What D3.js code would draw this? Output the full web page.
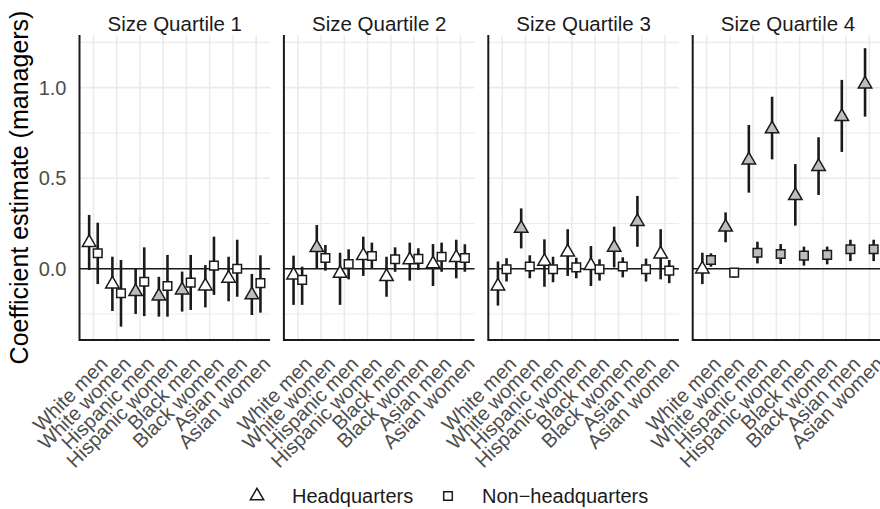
<!DOCTYPE html>
<html>
<head>
<meta charset="utf-8">
<script src="https://cdn.jsdelivr.net/npm/d3@7"></script>
<style>
  body { margin: 0; background: #fff; }
  svg { display: block; font-family: "Liberation Sans", Arial, Helvetica, sans-serif; }
</style>
</head>
<body>
<svg id="chart" width="880" height="509"></svg>
<script>
const panels = ['Size Quartile 1', 'Size Quartile 2', 'Size Quartile 3', 'Size Quartile 4'];
const categories = ['White men', 'White women', 'Hispanic men', 'Hispanic women',
                    'Black men', 'Black women', 'Asian men', 'Asian women'];
const yTicks = [0, 0.5, 1.0];
const yMinor = [-0.25, 0.25, 0.75, 1.25];
const legendLabels = ['Headquarters', 'Non\u2212headquarters'];

// headquarters estimates and 95% intervals, one row per size quartile
const hqEst = [
  [0.144, -0.085, -0.127, -0.151, -0.118, -0.096, -0.053, -0.145],
  [-0.035, 0.116, -0.026, 0.072, -0.044, 0.048, 0.026, 0.061],
  [-0.096, 0.223, 0.040, 0.092, 0.017, 0.118, 0.260, 0.081],
  [-0.002, 0.229, 0.600, 0.772, 0.403, 0.564, 0.840, 1.020]
];
const hqLo = [
  [-0.007, -0.234, -0.250, -0.265, -0.237, -0.214, -0.180, -0.256],
  [-0.200, 0.002, -0.200, -0.040, -0.155, -0.066, -0.096, -0.053],
  [-0.204, 0.112, -0.100, -0.040, -0.096, 0.007, 0.121, -0.059],
  [-0.085, 0.146, 0.420, 0.604, 0.238, 0.407, 0.645, 0.840]
];
const hqHi = [
  [0.297, 0.066, -0.001, -0.045, -0.016, 0.020, 0.066, -0.029],
  [0.072, 0.241, 0.088, 0.177, 0.066, 0.144, 0.136, 0.160],
  [0.040, 0.333, 0.162, 0.218, 0.125, 0.232, 0.402, 0.218],
  [0.088, 0.311, 0.794, 0.950, 0.578, 0.726, 1.043, 1.218]
];
const hqFilled = [
  [0, 0, 1, 1, 1, 0, 0, 1],
  [0, 1, 0, 0, 0, 0, 0, 0],
  [0, 1, 0, 0, 0, 1, 1, 0],
  [0, 1, 1, 1, 1, 1, 1, 1]
];

// non-headquarters estimates and intervals
const nhqEst = [
  [0.085, -0.136, -0.072, -0.096, -0.077, 0.017, 0.000, -0.080],
  [-0.062, 0.059, 0.026, 0.070, 0.052, 0.054, 0.066, 0.059],
  [-0.003, 0.012, -0.003, 0.007, -0.003, 0.012, -0.003, -0.011],
  [0.048, -0.022, 0.088, 0.081, 0.072, 0.076, 0.107, 0.107]
];
const nhqLo = [
  [-0.085, -0.320, -0.262, -0.265, -0.228, -0.145, -0.155, -0.243],
  [-0.200, -0.011, -0.059, 0.002, -0.017, -0.007, -0.017, -0.017],
  [-0.071, -0.053, -0.075, -0.053, -0.066, -0.048, -0.071, -0.080],
  [0.011, -0.050, 0.029, 0.026, 0.017, 0.024, 0.042, 0.042]
];
const nhqHi = [
  [0.254, 0.048, 0.118, 0.076, 0.076, 0.177, 0.160, 0.074],
  [0.011, 0.131, 0.107, 0.144, 0.118, 0.113, 0.144, 0.135],
  [0.058, 0.074, 0.066, 0.061, 0.052, 0.063, 0.056, 0.048],
  [0.085, 0.000, 0.149, 0.136, 0.122, 0.122, 0.160, 0.160]
];
const nhqFilled = [
  [0, 0, 0, 0, 0, 0, 0, 0],
  [0, 0, 0, 0, 0, 0, 0, 0],
  [0, 0, 0, 0, 0, 0, 0, 0],
  [1, 0, 1, 1, 1, 1, 1, 1]
];

const svg = d3.select('#chart');
const plotTop = 35, plotBottom = 340, left0 = 79.5, panelW = 190.6, gap = 13.8;
const grid = '#ebebeb', ink = '#1a1a1a', grayFill = '#bdbdbd';

let y = d3.scaleLinear().domain([-0.394, 1.291]).range([plotBottom, plotTop]);

// y axis title
svg.append('text')
  .attr('transform', 'translate(28,' + ((plotTop + plotBottom) / 2) + ') rotate(-90)')
  .attr('text-anchor', 'middle')
  .attr('font-size', 25)
  .attr('fill', '#000')
  .text('Coefficient estimate (managers)');

// y tick labels
svg.selectAll('.ylab')
  .data(yTicks)
  .enter().append('text')
  .attr('class', 'ylab')
  .attr('x', left0 - 13)
  .attr('y', d => y(d))
  .attr('dy', '0.36em')
  .attr('text-anchor', 'end')
  .attr('font-size', 20)
  .attr('fill', '#4d4d4d')
  .text(d => d3.format('.1f')(d));

const triangle = d3.symbol().type(d3.symbolTriangle).size(78);
const square = d3.symbol().type(d3.symbolSquare).size(74);

panels.forEach((title, p) => {
  let x0 = left0 + p * (panelW + gap);
  let x = d3.scalePoint().domain(categories).range([x0, x0 + panelW]).padding(0.6);
  let dodge = x.step() * 0.185;
  let g = svg.append('g');

  // grid
  g.selectAll('.hg')
    .data(yTicks.concat(yMinor))
    .enter().append('line')
    .attr('x1', x0).attr('x2', x0 + panelW)
    .attr('y1', d => y(d)).attr('y2', d => y(d))
    .attr('stroke', grid)
    .attr('stroke-width', d => yTicks.includes(d) ? 1.6 : 1.1);
  g.selectAll('.vg')
    .data(categories)
    .enter().append('line')
    .attr('x1', d => x(d)).attr('x2', d => x(d))
    .attr('y1', plotTop).attr('y2', plotBottom)
    .attr('stroke', grid)
    .attr('stroke-width', 1.6);

  // zero line
  g.append('line')
    .attr('x1', x0).attr('x2', x0 + panelW)
    .attr('y1', y(0)).attr('y2', y(0))
    .attr('stroke', ink).attr('stroke-width', 1.4);

  // axis lines
  g.append('line')
    .attr('x1', x0).attr('x2', x0)
    .attr('y1', plotTop).attr('y2', plotBottom + 1)
    .attr('stroke', ink).attr('stroke-width', 2);
  g.append('line')
    .attr('x1', x0).attr('x2', x0 + panelW)
    .attr('y1', plotBottom).attr('y2', plotBottom)
    .attr('stroke', ink).attr('stroke-width', 2);

  // strip title
  g.append('text')
    .attr('x', x0 + panelW / 2)
    .attr('y', 31)
    .attr('text-anchor', 'middle')
    .attr('font-size', 20.5)
    .attr('fill', ink)
    .text(title);

  // category labels, rotated 45 degrees
  g.selectAll('.xlab')
    .data(categories)
    .enter().append('text')
    .attr('transform', d => 'translate(' + (x(d) + 5.2) + ',' + (plotBottom + 15) + ') rotate(-45)')
    .attr('text-anchor', 'end')
    .attr('dy', '0.72em')
    .attr('font-size', 20)
    .attr('fill', '#4d4d4d')
    .text(d => d);

  let rows = categories.map((c, i) => ({
    c: c,
    hq: [hqEst[p][i], hqLo[p][i], hqHi[p][i], hqFilled[p][i]],
    nhq: [nhqEst[p][i], nhqLo[p][i], nhqHi[p][i], nhqFilled[p][i]]
  }));

  [['hq', -dodge, triangle], ['nhq', dodge, square]].forEach(([key, dx, sym]) => {
    g.selectAll('.ci-' + key)
      .data(rows)
      .enter().append('line')
      .attr('x1', d => x(d.c) + dx).attr('x2', d => x(d.c) + dx)
      .attr('y1', d => y(d[key][1])).attr('y2', d => y(d[key][2]))
      .attr('stroke', ink)
      .attr('stroke-width', 2.6);
    g.selectAll('.pt-' + key)
      .data(rows)
      .enter().append('path')
      .attr('d', sym)
      .attr('transform', d => 'translate(' + (x(d.c) + dx) + ',' + y(d[key][0]) + ')')
      .attr('fill', d => d[key][3] ? grayFill : '#fff')
      .attr('stroke', ink)
      .attr('stroke-width', 1.5);
  });
});

// legend
const legendY = 496;
svg.append('path')
  .attr('d', triangle)
  .attr('transform', 'translate(257,' + legendY + ')')
  .attr('fill', '#fff').attr('stroke', ink).attr('stroke-width', 1.5);
svg.append('text')
  .attr('x', 292).attr('y', legendY + 7)
  .attr('font-size', 20).attr('fill', ink)
  .text(legendLabels[0]);
svg.append('path')
  .attr('d', square)
  .attr('transform', 'translate(448,' + legendY + ')')
  .attr('fill', '#fff').attr('stroke', ink).attr('stroke-width', 1.5);
svg.append('text')
  .attr('x', 482).attr('y', legendY + 7)
  .attr('font-size', 20).attr('fill', ink)
  .text(legendLabels[1]);
</script>
</body>
</html>
